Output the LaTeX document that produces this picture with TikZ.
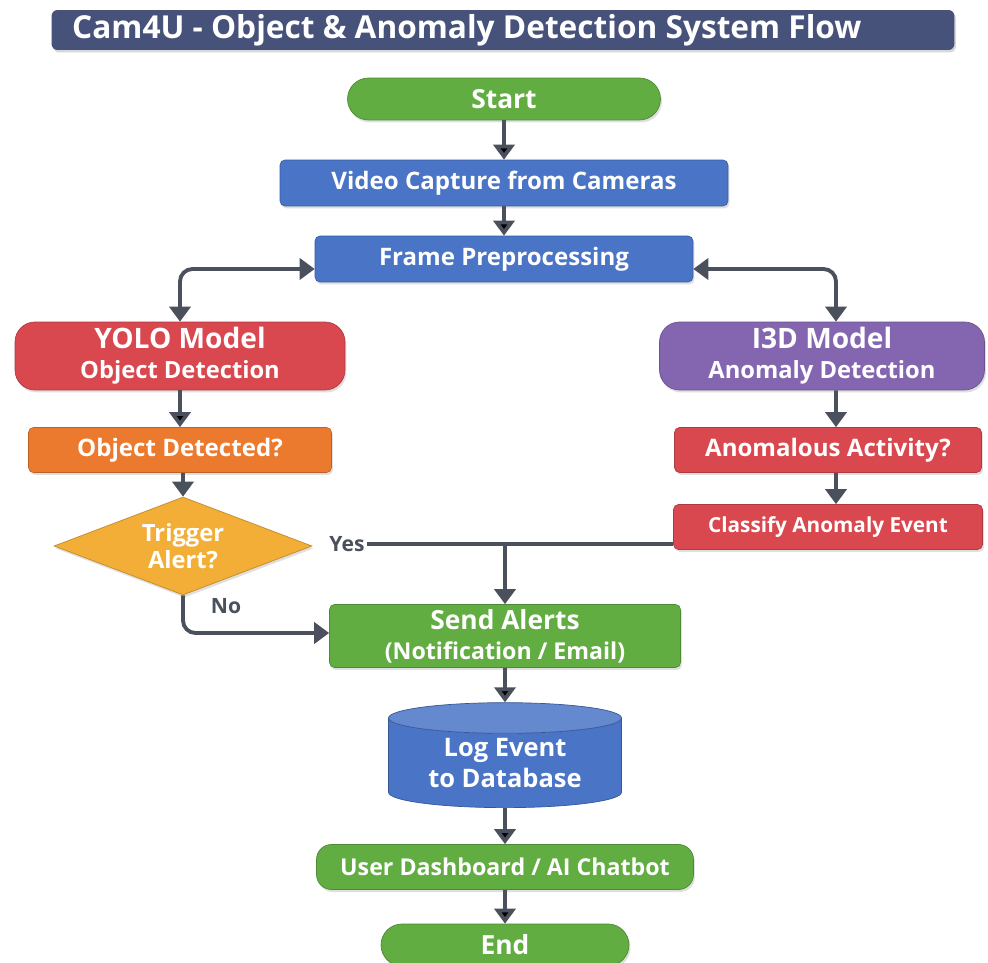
\documentclass[tikz,border=0pt]{standalone}
\usepackage{fontspec}
\setmainfont{Open Sans}
\usetikzlibrary{arrows.meta,shapes.geometric,shadows}

\definecolor{titleblue}{HTML}{46527A}
\definecolor{flowgreen}{HTML}{62AD41}
\definecolor{flowblue}{HTML}{4A74C6}
\definecolor{flowred}{HTML}{D9474F}
\definecolor{flowpurple}{HTML}{8466B0}
\definecolor{floworange}{HTML}{EC7A2E}
\definecolor{flowyellow}{HTML}{F2AE36}
\definecolor{arrowgray}{HTML}{4A505C}

\begin{document}
\begin{tikzpicture}[x=0.02cm,y=-0.02cm,>={Triangle[width=0.42cm,length=0.3cm]},
  flow/.style={draw=arrowgray,line width=2.2pt},
  box/.style={rectangle,rounded corners=0.1cm,text=white,align=center,inner sep=0pt,
    font=\bfseries\fontsize{13.7}{18}\selectfont,
    drop shadow={opacity=0.25,shadow xshift=0.03cm,shadow yshift=-0.05cm}},
  term node/.style={box,fill=flowgreen,draw=flowgreen!80!black,rounded corners=0.42cm,
    minimum height=0.84cm,font=\bfseries\fontsize{15}{18}\selectfont},
  step node/.style={box,fill=flowblue,draw=flowblue!80!black,minimum height=0.92cm},
  model node/.style={box,rounded corners=0.4cm,minimum width=6.6cm,minimum height=1.36cm,
    font=\bfseries\fontsize{13.5}{17}\selectfont},
  check node/.style={box,minimum height=0.9cm},
  decision node/.style={diamond,aspect=2.6,fill=flowyellow,draw=flowyellow!80!black,
    text=white,align=center,inner sep=0pt,minimum width=5.16cm,minimum height=1.96cm,
    font=\bfseries\fontsize{13.5}{15}\selectfont,
    drop shadow={opacity=0.25,shadow xshift=0.03cm,shadow yshift=-0.05cm}},
  db node/.style={cylinder,shape border rotate=90,aspect=0.2,draw=flowblue!75!black,
    cylinder uses custom fill,cylinder body fill=flowblue,cylinder end fill=flowblue!85!white,
    text=white,align=center,minimum width=4.66cm,minimum height=2.1cm,inner sep=0pt,
    font=\bfseries\fontsize{14.5}{18}\selectfont},
  lbl node/.style={text=arrowgray,font=\bfseries\fontsize{12}{14}\selectfont,inner sep=1pt}]

  \useasboundingbox[fill=white] (0,0) rectangle (988,963);

  % title bar
  \node[fill=titleblue,rounded corners=0.12cm,minimum width=18.06cm,minimum height=0.8cm,
    drop shadow={opacity=0.3,shadow xshift=0.03cm,shadow yshift=-0.05cm}] (titlebar) at (503,30) {};
  \node[anchor=west,text=white,font=\bfseries\fontsize{18}{21}\selectfont] (title) at (66,30)
    {Cam4U - Object \& Anomaly Detection System Flow};

  % main column
  \node[term node,minimum width=6.26cm] (start) at (504,99) {Start};
  \node[step node,minimum width=8.96cm] (video) at (504,183) {Video Capture from Cameras};
  \node[step node,minimum width=7.56cm] (frame) at (504,259) {Frame Preprocessing};

  % object branch
  \node[model node,fill=flowred,draw=flowred!80!black] (yolo) at (180,356)
    {{\fontsize{16}{19}\selectfont YOLO Model}\\Object Detection};
  \node[check node,fill=floworange,draw=floworange!80!black,minimum width=6.06cm] (objdet) at (180,450) {Object Detected?};
  \node[decision node] (trigger) at (183,546) {Trigger\\Alert?};

  % anomaly branch
  \node[model node,fill=flowpurple,draw=flowpurple!80!black,minimum width=6.5cm] (i3d) at (822,356)
    {{\fontsize{16}{19}\selectfont I3D Model}\\Anomaly Detection};
  \node[check node,fill=flowred,draw=flowred!80!black,minimum width=6.14cm] (anom) at (828,450) {Anomalous Activity?};
  \node[check node,fill=flowred,draw=flowred!80!black,minimum width=6.18cm,
    font=\bfseries\fontsize{11.8}{14}\selectfont] (classify) at (828,527) {Classify Anomaly Event};

  % alerts and storage
  \node[box,fill=flowgreen,draw=flowgreen!80!black,minimum width=7.02cm,minimum height=1.26cm,
    font=\bfseries\fontsize{13.2}{17}\selectfont] (alerts) at (505,636)
    {{\fontsize{15}{18}\selectfont Send Alerts}\\(Notification / Email)};
  \node[db node] (log) at (505,763) {Log Event\\to Database};
  \node[box,fill=flowgreen,draw=flowgreen!80!black,rounded corners=0.3cm,minimum width=7.54cm,minimum height=0.9cm,
    font=\bfseries\fontsize{13.2}{17}\selectfont] (dash) at (505,867)
    {User Dashboard / AI Chatbot};
  \node[term node,minimum width=4.96cm] (end) at (505,945) {End};

  \node[lbl node] (yes) at (347,544) {Yes};
  \node[lbl node] (no) at (226,606) {No};
  \coordinate (split) at (yes -| alerts.north);

  \path[flow,->]
    (start) edge (video)
    (video) edge (frame)
    (yolo) edge (objdet)
    (alerts) edge (log)
    (log) edge (dash)
    (dash) edge (end);

  \draw[flow,->] (objdet.south -| trigger.north) -- (trigger.north);
  \draw[flow,->] ([xshift=0.28cm]i3d.south) -- ([xshift=0.16cm]anom.north);
  \draw[flow,->] ([xshift=0.16cm]anom.south) -- ([xshift=0.16cm]classify.north);
  \draw[flow,->] (split) -- (alerts.north);
  \draw[flow,<->,rounded corners=0.25cm] ([yshift=-0.2cm]frame.west) -| (yolo.north);
  \draw[flow,<->,rounded corners=0.25cm] ([yshift=-0.2cm]frame.east) -| ([xshift=0.28cm]i3d.north);
  \draw[flow] (yes.east) -- (yes -| classify.west);
  \draw[flow,->,rounded corners=0.25cm] (trigger.south) |- ([yshift=0.06cm]alerts.west);

\end{tikzpicture}
\end{document}
